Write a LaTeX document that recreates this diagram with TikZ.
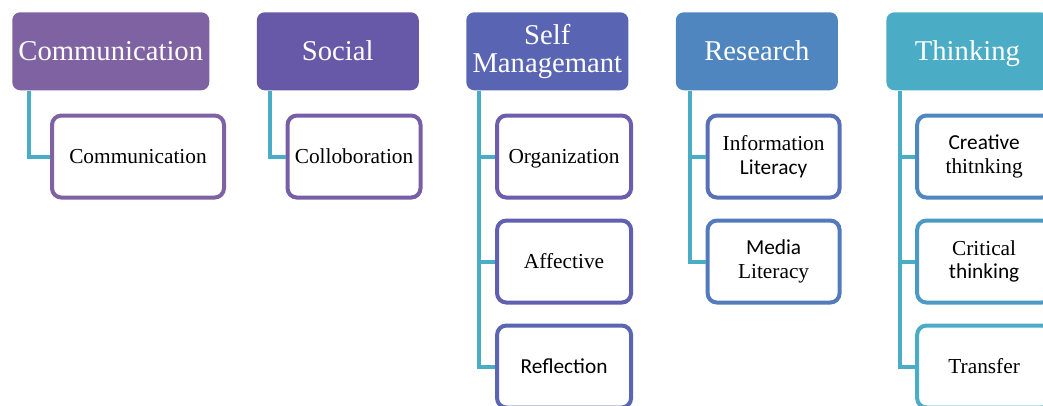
\documentclass[tikz,border=0pt]{standalone}
\usepackage{fontspec}
\setmainfont{Liberation Serif}
\newfontfamily\calib{Carlito}
\usetikzlibrary{positioning}
\definecolor{hdcomm}{HTML}{7F62A1}
\definecolor{hdsocial}{HTML}{6859A8}
\definecolor{hdself}{HTML}{5965B3}
\definecolor{hdresearch}{HTML}{4F86BF}
\definecolor{hdthink}{HTML}{4BACC6}
\definecolor{bdcollab}{HTML}{765FA6}
\definecolor{bdorg}{HTML}{6E5DAC}
\definecolor{bdaff}{HTML}{6160B0}
\definecolor{bdrefl}{HTML}{5A66B4}
\definecolor{bdinfo}{HTML}{5870B8}
\definecolor{bdmedia}{HTML}{537BBC}
\definecolor{bdcreat}{HTML}{4F87BF}
\definecolor{bdcrit}{HTML}{4C9AC3}
\definecolor{linkcyan}{HTML}{4BACC6}
\tikzset{
  headbox/.style={fill=#1, text=white, rounded corners=6pt, minimum width=121.5pt, minimum height=58.5pt, align=center, inner sep=1pt, font=\fontsize{21.5}{21}\selectfont},
  headline/.style={text height=17.5pt, text depth=4pt},
  itembox/.style={draw=#1, fill=white, line width=3pt, rounded corners=7pt, minimum width=100.5pt, minimum height=61.5pt, align=center, inner sep=1pt, font=\fontsize{16}{17.5}\selectfont},
  itemline/.style={text height=14.5pt, text depth=4pt},
  link/.style={draw=linkcyan, line width=3pt}
}

\begin{document}
\begin{tikzpicture}
\useasboundingbox (0,0) rectangle (782.25pt,-303.75pt);
% headers
\node [headbox=hdcomm, headline, minimum width=147.75pt, anchor=north west] (hcomm) at (9pt,-9pt) {Communication};
\node [headbox=hdsocial, headline, right=35.25pt of hcomm] (hsocial) {Social};
\node [headbox=hdself, right=35.25pt of hsocial] (hself) {Self\\Managemant};
\node [headbox=hdresearch, headline, right=35.25pt of hself] (hresearch) {Research};
\node [headbox=hdthink, headline, right=36pt of hresearch] (hthink) {Thinking};

% items
\node [itembox=hdcomm, itemline, minimum width=129pt, below right=17.25pt and 28.5pt of hcomm.south west] (icomm) {Communication};
\node [itembox=bdcollab, itemline, minimum width=99.75pt, below right=17.25pt and 21.75pt of hsocial.south west] (icollab) {Colloboration};
\node [itembox=bdorg, itemline, below right=17.25pt and 21.75pt of hself.south west] (iorg) {Organization};
\node [itembox=bdaff, itemline, below=14.25pt of iorg] (iaff) {Affective};
\node [itembox=bdrefl, itemline, below=14.25pt of iaff] (irefl) {\calib Reflection};
\node [itembox=bdinfo, minimum width=99pt, below right=17.25pt and 22.5pt of hresearch.south west] (iinfo) {Information\\{\calib Literacy}};
\node [itembox=bdmedia, minimum width=99pt, below=14.25pt of iinfo] (imedia) {{\calib Media}\\Literacy};
\node [itembox=bdcreat, below right=17.25pt and 21.75pt of hthink.south west] (icreat) {\calib Creative\\thitnking};
\node [itembox=bdcrit, below=14.25pt of icreat] (icrit) {Critical\\{\calib thinking}};
\node [itembox=hdthink, itemline, below=14.25pt of icrit] (itrans) {Transfer};

% connectors
\draw [link] ([xshift=12.75pt]hcomm.south west) |- (icomm.west);
\draw [link] ([xshift=9.75pt]hsocial.south west) |- (icollab.west);
\foreach \i in {iorg,iaff,irefl}
  \draw [link] ([xshift=9.75pt]hself.south west) |- (\i.west);
\foreach \i in {iinfo,imedia}
  \draw [link] ([xshift=10.5pt]hresearch.south west) |- (\i.west);
\foreach \i in {icreat,icrit,itrans}
  \draw [link] ([xshift=10.5pt]hthink.south west) |- (\i.west);
\end{tikzpicture}
\end{document}
